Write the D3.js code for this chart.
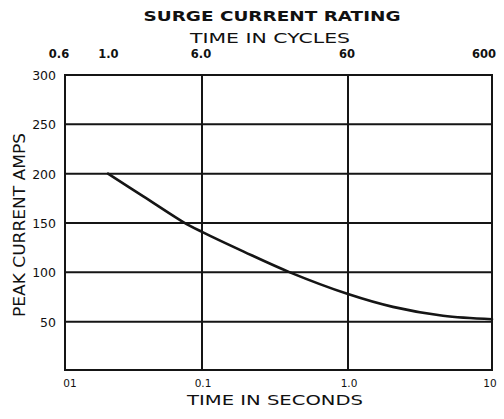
<!DOCTYPE html>
<html><head><meta charset="utf-8">
<script src="https://cdn.jsdelivr.net/npm/d3@7"></script>
<style>body{margin:0;background:#fff}svg{display:block}text{font-family:"DejaVu Sans",Verdana,sans-serif;fill:#111}</style>
</head><body>
<script>
// Data
const timeSeconds = [0.0206, 0.0373, 0.073, 0.1, 0.193, 0.40, 1.0, 2.05, 4.57, 10];
const peakAmps    = [200,    177,    151,   141, 121,   100,  78,  65,   56,   52.5];
const yTicks = [50, 100, 150, 200, 250, 300];
const yTickLabels = ["50", "100", "150", "200", "250", "300"];
const secTicks = [0.01, 0.1, 1, 10];
const secTickLabels = ["01", "0.1", "1.0", "10"];
const cycleTicks = [0.6, 1, 6, 60, 600];
const cycleTickLabels = ["0.6", "1.0", "6.0", "60", "600"];
const HZ = 60;

const W = 504, H = 419;
const svg = d3.select("body").append("svg").attr("width", W).attr("height", H);

const x = d3.scaleLog().domain([0.01, 0.1, 1, 10]).range([65, 202, 348, 492]);
const y = d3.scaleLinear().domain([0, 300]).range([371, 75]);

const ink = "#151515";

// gridlines
svg.append("g").selectAll("line").data(yTicks).join("line")
  .attr("x1", x(0.01)).attr("x2", x(10))
  .attr("y1", d => y(d)).attr("y2", d => y(d))
  .attr("stroke", ink).attr("stroke-width", 2);
svg.append("g").selectAll("line").data(secTicks).join("line")
  .attr("x1", d => x(d)).attr("x2", d => x(d))
  .attr("y1", y(300) - 1).attr("y2", y(0) - 1)
  .attr("stroke", ink).attr("stroke-width", 2);
svg.append("line").attr("x1", x(0.01) - 1).attr("x2", x(10) + 1)
  .attr("y1", y(0) - 1).attr("y2", y(0) - 1).attr("stroke", ink).attr("stroke-width", 2);

// curve
const line = d3.line().x(d => x(d[0])).y(d => y(d[1])).curve(d3.curveCatmullRom.alpha(0.5));
svg.append("path").datum(timeSeconds.map((t, i) => [t, peakAmps[i]]))
  .attr("d", line).attr("fill", "none").attr("stroke", ink).attr("stroke-width", 2.6)
  .attr("stroke-linecap", "round");

// y tick labels
svg.append("g").selectAll("text").data(yTicks).join("text")
  .attr("x", 56).attr("y", d => y(d) + 5)
  .attr("text-anchor", "end").attr("font-size", 12.5)
  .text((d, i) => yTickLabels[i]);

// bottom tick labels
svg.append("g").selectAll("text").data(secTicks).join("text")
  .attr("x", (d, i) => x(d) + (i === 0 ? 5 : (i === secTicks.length - 1 ? -2 : 1)))
  .attr("y", 387).attr("text-anchor", "middle").attr("font-size", 10.5)
  .text((d, i) => secTickLabels[i]);

// top tick labels (cycles -> seconds)
svg.append("g").selectAll("text").data(cycleTicks).join("text")
  .attr("x", (d, i) => x(d / HZ) + (i === 0 ? -6 : (i === 1 ? 13 : (i === cycleTicks.length - 1 ? -8 : -1))))
  .attr("y", 58).attr("text-anchor", "middle").attr("font-size", 11.5).attr("font-weight", "bold")
  .text((d, i) => cycleTickLabels[i]);

// titles
svg.append("text").attr("x", 272).attr("y", 21).attr("text-anchor", "middle")
  .attr("font-size", 14).attr("font-weight", "bold")
  .attr("textLength", 257).attr("lengthAdjust", "spacingAndGlyphs")
  .text("SURGE CURRENT RATING");
svg.append("text").attr("x", 270).attr("y", 43).attr("text-anchor", "middle")
  .attr("font-size", 13.5).attr("textLength", 160).attr("lengthAdjust", "spacingAndGlyphs")
  .text("TIME IN CYCLES");
svg.append("text").attr("x", 275).attr("y", 405).attr("text-anchor", "middle")
  .attr("font-size", 14.5).attr("textLength", 176).attr("lengthAdjust", "spacingAndGlyphs")
  .text("TIME IN SECONDS");
svg.append("text").attr("transform", "translate(25,225) rotate(-90)").attr("text-anchor", "middle")
  .attr("font-size", 15).attr("textLength", 184).attr("lengthAdjust", "spacingAndGlyphs")
  .text("PEAK CURRENT AMPS");
</script>
</body></html>
